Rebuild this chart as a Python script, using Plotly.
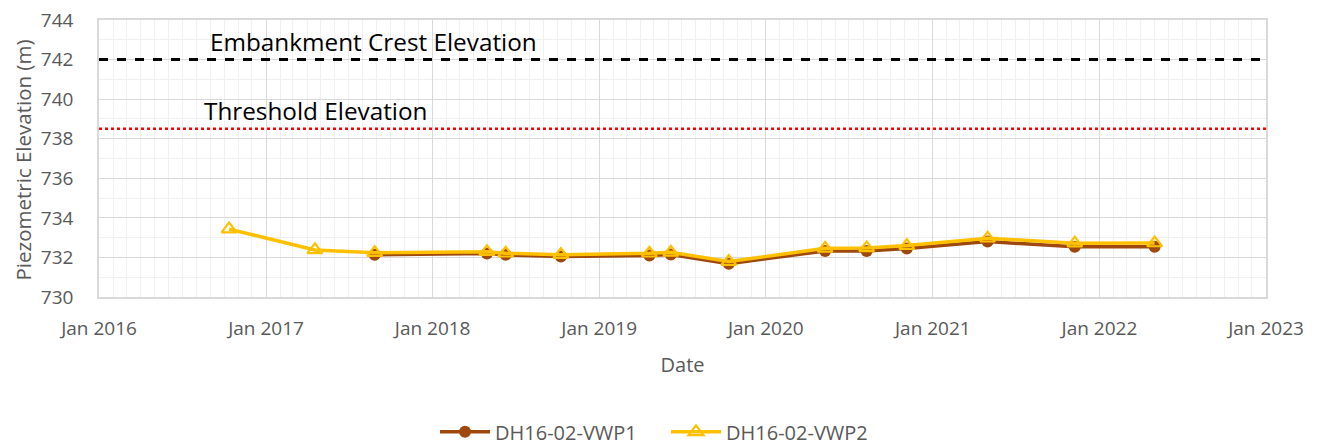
import plotly.graph_objects as go

dates_vwp1 = ["2017-08-27", "2018-04-30", "2018-06-10", "2018-10-09", "2019-04-21",
              "2019-06-07", "2019-10-12", "2020-05-10", "2020-08-09", "2020-11-05",
              "2021-05-01", "2021-11-08", "2022-05-02"]
vwp1 = [732.13, 732.20, 732.13, 732.05, 732.10, 732.15, 731.68, 732.33, 732.33, 732.45,
        732.80, 732.54, 732.54]

dates_vwp2 = ["2016-10-12", "2017-04-18"] + dates_vwp1
vwp2 = [733.43, 732.38, 732.24, 732.29, 732.21, 732.14, 732.21, 732.26, 731.79, 732.46,
        732.48, 732.60, 732.97, 732.72, 732.73]

crest_elev = 742.0
threshold_elev = 738.5
crest_label = "Embankment Crest Elevation"
threshold_label = "Threshold Elevation"
y_title = "Piezometric Elevation (m)"

BROWN = "#9E480E"
YELLOW = "#FFC000"
GRAY_TXT = "#595959"
FONT = "Open Sans"

fig = go.Figure()
fig.add_trace(go.Scatter(
    x=dates_vwp1, y=vwp1, mode="lines+markers", name="DH16-02-VWP1",
    line=dict(color=BROWN, width=3.5),
    marker=dict(symbol="circle", size=12, color=BROWN)))
fig.add_trace(go.Scatter(
    x=dates_vwp2, y=vwp2, mode="lines+markers", name="DH16-02-VWP2",
    line=dict(color=YELLOW, width=3.5),
    marker=dict(symbol="triangle-up-open", size=13, color=YELLOW, line=dict(width=2.2, color=YELLOW))))

fig.add_hline(y=crest_elev, line=dict(color="black", width=3, dash="dash"), layer="above")
fig.add_hline(y=threshold_elev, line=dict(color="#FF0000", width=2.5, dash="dot"), layer="above")

fig.add_annotation(x=0.0938, xref="paper", y=crest_elev, yref="y", yshift=18,
                   text=crest_label, showarrow=False, xanchor="left",
                   font=dict(family=FONT, size=24.3, color="black"))
fig.add_annotation(x=0.0881, xref="paper", y=threshold_elev, yref="y", yshift=18,
                   text=threshold_label, showarrow=False, xanchor="left",
                   font=dict(family=FONT, size=24.3, color="black"))
fig.add_annotation(x=0, xref="paper", xshift=-77, xanchor="center",
                   y=0.5, yref="paper", yshift=-2, yanchor="middle",
                   text=y_title, textangle=-90, showarrow=False,
                   font=dict(family=FONT, size=20.5, color=GRAY_TXT))

fig.update_layout(
    width=1324, height=448,
    margin=dict(l=91, r=66, t=12, b=159, autoexpand=False),
    plot_bgcolor="white", paper_bgcolor="white",
    font=dict(family=FONT, size=19, color=GRAY_TXT),
    showlegend=True,
    legend=dict(orientation="h", x=0.497, xanchor="center", xref="container",
                y=0.054, yanchor="middle", yref="container",
                font=dict(family=FONT, size=20, color=GRAY_TXT),
                itemwidth=50, entrywidth=166, entrywidthmode="pixels",
                traceorder="normal"),
    xaxis=dict(
        type="date", range=["2016-01-01", "2023-01-01"], automargin=False,
        dtick="M12", tick0="2016-01-01", tickformat="%b %Y",
        showgrid=True, gridcolor="#D9D9D9", gridwidth=1,
        minor=dict(dtick="M1", showgrid=True, gridcolor="#F0F0F0", gridwidth=1),
        showline=True, linecolor="#D9D9D9", linewidth=1.5, mirror=True,
        ticks="", ticklabelstandoff=13, ticklabeloverflow="allow",
        tickfont=dict(family=FONT, size=19, color=GRAY_TXT),
        title=dict(text="Date", font=dict(family=FONT, size=20, color=GRAY_TXT), standoff=18),
        zeroline=False),
    yaxis=dict(
        range=[730, 744], dtick=2, tick0=730, automargin=False,
        showgrid=True, gridcolor="#D9D9D9", gridwidth=1,
        minor=dict(dtick=1, showgrid=True, gridcolor="#F0F0F0", gridwidth=1),
        showline=True, linecolor="#D9D9D9", linewidth=1.5, mirror=True,
        ticks="", ticklabelstandoff=20, ticklabeloverflow="allow",
        tickfont=dict(family=FONT, size=19, color=GRAY_TXT),
        zeroline=False),
)

fig.write_html("out.html")
